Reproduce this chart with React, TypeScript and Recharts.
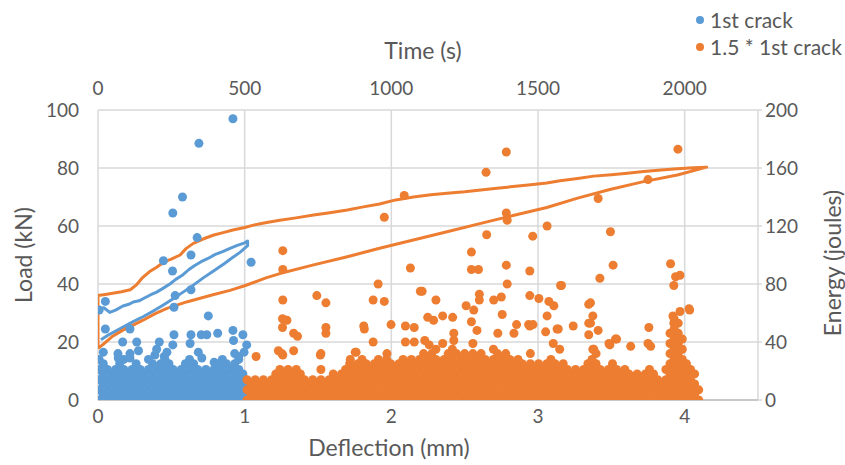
import React from "react";
import { ScatterChart, Scatter, XAxis, YAxis, CartesianGrid } from "recharts";

const BLUE = "#5B9BD5";
const ORANGE = "#ED7D31";
const INK = "#595959";
const GRID = "#d9d9d9";
const FONT = "Lato, 'Noto Sans', sans-serif";

const deflectionTicks = [0, 1, 2, 3, 4];
const timeTicks = [0, 500, 1000, 1500, 2000];
const loadTicks = [0, 20, 40, 60, 80, 100];
const energyTicks = [0, 40, 80, 120, 160, 200];

const seriesNames = ["1st crack", "1.5 * 1st crack"];

// AE hits in the dense band near zero: [time (s), energies (J)]
const crack1Band: [number, number[]][] = [
  [4, [0, 7, 14, 21, 28]], [18, [4, 11, 18, 25]], [32, [0, 7, 14, 21]], [46, [4, 11, 18]],
  [60, [0, 7, 14, 21]], [74, [4, 11, 18, 25]], [88, [0, 7, 14, 21, 28]], [102, [4, 11, 18]],
  [116, [0, 7, 14, 21]], [130, [4, 11, 18, 25]], [144, [0, 7, 14, 21]], [158, [4, 11, 18]],
  [172, [0, 7, 14, 21, 28]], [186, [4, 11, 18, 25]], [200, [0, 7, 14, 21]], [214, [4, 11, 18, 25]],
  [228, [0, 7, 14, 21, 28]], [242, [4, 11, 18, 25]], [256, [0, 7, 14, 21]], [270, [4, 11, 18]],
  [284, [0, 7, 14, 21]], [298, [4, 11, 18, 25]], [312, [0, 7, 14, 21, 28]], [326, [4, 11, 18, 25]],
  [340, [0, 7, 14, 21]], [354, [4, 11, 18]], [368, [0, 7, 14, 21]], [382, [4, 11, 18]],
  [396, [0, 7, 14, 21]], [410, [4, 11, 18, 25]], [424, [0, 7, 14, 21, 28]], [438, [4, 11, 18, 25]],
  [452, [0, 7, 14, 21]], [466, [4, 11, 18, 25, 32]], [480, [0, 7, 14, 21, 28]], [494, [4, 11, 18]],
];

// isolated higher-energy hits: [time (s), energy (J)]
const crack1Peaks: [number, number][] = [
  [460, 194], [344, 177], [288, 140], [255, 129], [338, 112], [223, 96], [317, 100],
  [254, 89], [522, 95], [263, 72], [317, 76], [259, 64], [376, 58], [25, 68], [4, 62],
  [25, 49], [109, 49], [84, 40], [132, 40], [209, 40], [259, 45], [317, 45], [352, 45],
  [408, 46], [460, 48], [494, 45], [507, 38], [68, 32], [109, 32], [194, 31], [138, 34],
  [200, 35], [255, 38], [314, 39], [371, 45], [462, 41], [18, 33], [69, 29], [109, 29],
  [226, 30], [235, 33], [342, 33], [354, 29], [396, 26], [479, 30], [498, 33],
];

const crack15Band: [number, number[]][] = [
  [508, [0, 7, 14]], [522, [4, 11]], [536, [0, 7, 14]], [550, [4, 11]], [564, [0, 7, 14]],
  [578, [4, 11]], [592, [0, 7, 14]], [606, [4, 11, 18]], [620, [0, 7, 14, 21]],
  [634, [4, 11, 18]], [648, [0, 7, 14, 21]], [662, [4, 11, 18]], [676, [0, 7, 14, 21]],
  [690, [4, 11, 18]], [704, [0, 7, 14]], [718, [4, 11]], [732, [0, 7, 14]], [746, [4, 11]],
  [760, [0, 7, 14, 21]], [774, [4, 11]], [788, [0, 7, 14]], [802, [4, 11, 18]],
  [816, [0, 7, 14]], [830, [4, 11, 18]], [844, [0, 7, 14, 21]], [858, [4, 11, 18, 25]],
  [872, [0, 7, 14, 21]], [886, [4, 11, 18, 25]], [900, [0, 7, 14, 21, 28]],
  [914, [4, 11, 18, 25]], [928, [0, 7, 14, 21]], [942, [4, 11, 18, 25]],
  [956, [0, 7, 14, 21, 28]], [970, [4, 11, 18, 25]], [984, [0, 7, 14, 21, 28]],
  [998, [4, 11, 18, 25]], [1012, [0, 7, 14, 21]], [1026, [4, 11, 18, 25]],
  [1040, [0, 7, 14, 21, 28]], [1054, [4, 11, 18, 25]], [1068, [0, 7, 14, 21, 28]],
  [1082, [4, 11, 18, 25]], [1096, [0, 7, 14, 21, 28]], [1110, [4, 11, 18, 25, 32]],
  [1124, [0, 7, 14, 21, 28]], [1138, [4, 11, 18, 25, 32]], [1152, [0, 7, 14, 21, 28, 35]],
  [1166, [4, 11, 18, 25]], [1180, [0, 7, 14, 21, 28]], [1194, [4, 11, 18, 25, 32]],
  [1208, [0, 7, 14, 21, 28, 35]], [1222, [4, 11, 18, 25, 32]], [1236, [0, 7, 14, 21, 28]],
  [1250, [4, 11, 18, 25, 32]], [1264, [0, 7, 14, 21, 28]], [1278, [4, 11, 18, 25, 32, 39]],
  [1292, [0, 7, 14, 21, 28]], [1306, [4, 11, 18, 25, 32]], [1320, [0, 7, 14, 21, 28]],
  [1334, [4, 11, 18, 25]], [1348, [0, 7, 14, 21, 28, 35]], [1362, [4, 11, 18, 25, 32]],
  [1376, [0, 7, 14, 21, 28]], [1390, [4, 11, 18, 25, 32]], [1404, [0, 7, 14, 21, 28]],
  [1418, [4, 11, 18, 25]], [1432, [0, 7, 14, 21, 28]], [1446, [4, 11, 18, 25]],
  [1460, [0, 7, 14, 21]], [1474, [4, 11, 18, 25, 32]], [1488, [0, 7, 14, 21]],
  [1502, [4, 11, 18, 25]], [1516, [0, 7, 14, 21]], [1530, [4, 11, 18, 25]],
  [1544, [0, 7, 14, 21, 28]], [1558, [4, 11, 18, 25]], [1572, [0, 7, 14, 21]],
  [1586, [4, 11, 18, 25]], [1600, [0, 7, 14, 21]], [1614, [4, 11, 18]],
  [1628, [0, 7, 14, 21]], [1642, [4, 11, 18]], [1656, [0, 7, 14, 21]],
  [1670, [4, 11, 18, 25]], [1684, [0, 7, 14, 21, 28]], [1698, [4, 11, 18, 25, 32]],
  [1712, [0, 7, 14, 21]], [1726, [4, 11, 18]], [1740, [0, 7, 14, 21]],
  [1754, [4, 11, 18, 25]], [1768, [0, 7, 14, 21]], [1782, [4, 11, 18]],
  [1796, [0, 7, 14, 21]], [1810, [4, 11, 18]], [1824, [0, 7, 14]], [1838, [4, 11, 18]],
  [1852, [0, 7, 14]], [1866, [4, 11, 18]], [1880, [0, 7, 14, 21]], [1894, [4, 11, 18]],
  [1908, [0, 7, 14]], [1922, [4, 11]], [1936, [0, 7, 14, 21]],
  [1950, [4, 11, 18, 25, 32, 39, 46]], [1964, [0, 7, 14, 21, 28, 35, 42, 49, 56]],
  [1978, [4, 11, 18, 25, 32, 39, 46, 53]], [1992, [0, 7, 14, 21, 28, 35, 42]],
  [2006, [4, 11, 18, 25]], [2020, [0, 7, 14, 21]], [2034, [4, 11, 18]], [2048, [0, 7]],
];

const crack15Peaks: [number, number][] = [
  [1392, 171], [1323, 157], [1044, 141], [976, 126], [1392, 129], [1395, 124], [1531, 120],
  [1325, 114], [1482, 113], [630, 103], [630, 90], [1273, 102], [1065, 91], [1273, 90],
  [1297, 90], [1392, 93], [1472, 89], [955, 80], [1395, 80], [1577, 79], [630, 69],
  [746, 72], [777, 67], [938, 69], [976, 68], [1105, 75], [1152, 69], [1255, 65],
  [1281, 62], [1300, 73], [1300, 69], [1349, 69], [1375, 71], [1472, 72], [1503, 70],
  [1537, 68], [1554, 65], [1378, 59], [1124, 57], [1144, 55], [1175, 58], [1209, 57],
  [999, 52], [1048, 51], [1078, 50], [1273, 54], [1472, 51], [1531, 58], [1620, 51],
  [1569, 49], [1526, 47], [908, 49], [777, 50], [777, 46], [629, 56], [644, 55], [629, 50],
  [667, 46], [680, 44], [630, 31], [667, 34], [758, 31], [880, 33], [1977, 173],
  [1875, 152], [1705, 139], [1747, 116], [1756, 93], [1711, 84], [1952, 94], [1969, 85],
  [1984, 86], [1963, 79], [1580, 79], [1679, 67], [1687, 58], [1679, 53], [1705, 48],
  [1878, 50], [2017, 62], [1984, 61], [1960, 58], [1963, 53], [1764, 42], [1745, 38],
  [1816, 37], [1875, 39], [1884, 37], [1687, 35], [539, 30], [906, 51], [1099, 75],
  [615, 34], [627, 32], [760, 32], [1078, 40], [1114, 41], [1129, 38], [1175, 39],
  [1213, 46], [1213, 41], [1363, 46], [1427, 52], [1418, 46], [1552, 39], [1574, 35],
  [1292, 48], [1468, 52], [1483, 52], [1565, 49], [1673, 66], [1673, 53], [1742, 39],
  [1768, 42], [1690, 35], [2015, 63], [1673, 45], [860, 28], [877, 33], [938, 40],
  [985, 32], [1048, 40],
];

// load-deflection loops: [deflection (mm), load (kN)]
const crack1Loop: [number, number][] = [
  [0.01, 31.5], [0.04, 31.8], [0.08, 30.2], [0.12, 31.0], [0.17, 32.4], [0.21, 33.0],
  [0.24, 33.8], [0.28, 34.2], [0.31, 35.0], [0.36, 36.3], [0.4, 37.2], [0.44, 38.4],
  [0.49, 40.0], [0.53, 41.6], [0.58, 43.2], [0.62, 45.0], [0.66, 46.4], [0.7, 47.6],
  [0.75, 48.8], [0.8, 50.2], [0.85, 51.2], [0.9, 52.3], [0.95, 53.3], [1.0, 54.2],
  [1.02, 54.8], [1.02, 53.2], [0.97, 51.0], [0.92, 49.2], [0.86, 47.0], [0.79, 44.6],
  [0.72, 42.2], [0.65, 39.6], [0.58, 37.2], [0.51, 34.8], [0.44, 32.6], [0.38, 30.8],
  [0.31, 28.8], [0.24, 27.0], [0.18, 25.4], [0.13, 24.0], [0.07, 22.4], [0.02, 20.8],
];

const crack15Loop: [number, number][] = [
  [0, 17.8], [0, 36], [0.05, 36.4], [0.1, 36.8], [0.16, 37.3], [0.22, 38.0], [0.26, 39.6],
  [0.3, 42.0], [0.35, 44.2], [0.4, 45.8], [0.45, 47.6], [0.5, 48.6], [0.56, 50.0],
  [0.6, 52.2], [0.65, 54.0], [0.72, 55.6], [0.79, 56.9], [0.86, 57.8], [0.92, 58.6],
  [1.0, 59.5], [1.06, 60.3], [1.15, 61.2], [1.24, 62.0], [1.35, 62.8], [1.47, 63.8],
  [1.58, 64.6], [1.7, 65.5], [1.8, 66.5], [1.92, 67.6], [2.03, 69.0], [2.15, 70.0],
  [2.27, 70.8], [2.38, 71.3], [2.5, 71.8], [2.61, 72.4], [2.72, 73.0], [2.83, 73.6],
  [2.95, 74.2], [3.06, 74.8], [3.15, 75.6], [3.27, 76.4], [3.38, 77.2], [3.5, 77.7],
  [3.61, 78.2], [3.72, 78.8], [3.84, 79.3], [3.95, 79.7], [4.06, 80.1], [4.15, 80.3],
  [4.1, 79.6], [3.95, 77.6], [3.72, 75.3], [3.49, 72.6], [3.27, 69.6], [3.06, 66.4],
  [2.83, 63.6], [2.61, 60.9], [2.38, 58.0], [2.15, 55.2], [1.92, 52.3], [1.7, 49.4],
  [1.47, 46.6], [1.24, 43.6], [1.15, 42.2], [1.0, 39.4], [0.9, 37.8], [0.79, 36.4],
  [0.61, 33.9], [0.47, 31.6], [0.39, 29.8], [0.31, 27.6], [0.24, 25.8], [0.17, 24.1],
  [0.1, 22.0], [0.04, 19.4], [0.0, 17.8],
];

const hits = (band: [number, number[]][], peaks: [number, number][]) => [
  ...band.flatMap(([t, es]) => es.map((E) => ({ t, E }))),
  ...peaks.map(([t, E]) => ({ t, E })),
];
const loop = (pts: [number, number][]) => pts.map(([d, L]) => ({ d, L }));

const tickStyle = { fill: INK, fontSize: 19, fontFamily: FONT };

const title = (text: string, x: number, y: number, rotate = false) => () => (
  <text
    x={x}
    y={y}
    textAnchor="middle"
    dominantBaseline="central"
    fill={INK}
    fontSize={23}
    fontFamily={FONT}
    transform={rotate ? `rotate(-90 ${x} ${y})` : undefined}
  >
    {text}
  </text>
);

const dot = (color: string) => (p: any) => <circle cx={p.cx} cy={p.cy} r={4.5} fill={color} />;
const noDot = () => <g />;

export default function App() {
  return (
    <div style={{ position: "absolute", left: 0, top: 0, width: 845, height: 465, background: "#fff" }}>
      <ScatterChart width={845} height={465} margin={{ top: 80, right: 27, bottom: 35, left: 38 }}>
        <CartesianGrid xAxisId="defl" yAxisId="load" stroke={GRID} strokeWidth={1.5} />
        <XAxis
          xAxisId="defl"
          dataKey="d"
          type="number"
          orientation="bottom"
          domain={[0, 4.5]}
          ticks={deflectionTicks}
          interval={0}
          allowDataOverflow
          height={30}
          tickSize={0}
          tickMargin={10}
          tickLine={false}
          axisLine={{ stroke: "#bfbfbf", strokeWidth: 1.5 }}
          tick={tickStyle}
          label={title("Deflection (mm)", 389, 447)}
        />
        <XAxis
          xAxisId="time"
          dataKey="t"
          type="number"
          orientation="top"
          domain={[0, 2250]}
          ticks={timeTicks}
          interval={0}
          allowDataOverflow
          height={30}
          tickSize={0}
          tickMargin={15}
          tickLine={false}
          axisLine={false}
          tick={tickStyle}
          label={title("Time (s)", 423, 50)}
        />
        <YAxis
          yAxisId="load"
          dataKey="L"
          type="number"
          domain={[0, 100]}
          ticks={loadTicks}
          interval={0}
          allowDataOverflow
          width={60}
          tickSize={0}
          tickMargin={19}
          tickLine={false}
          axisLine={false}
          tick={tickStyle}
          label={title("Load (kN)", 23, 255, true)}
        />
        <YAxis
          yAxisId="energy"
          dataKey="E"
          type="number"
          orientation="right"
          domain={[0, 200]}
          ticks={energyTicks}
          interval={0}
          allowDataOverflow
          width={60}
          tickSize={4}
          tickMargin={3}
          tickLine={{ stroke: GRID, strokeWidth: 1.5 }}
          axisLine={false}
          tick={tickStyle}
          label={title("Energy (joules)", 832, 263, true)}
        />
        <Scatter
          data={loop(crack1Loop)}
          xAxisId="defl"
          yAxisId="load"
          fill={BLUE}
          line={{ stroke: BLUE, strokeWidth: 3, strokeLinejoin: "round" }}
          shape={noDot}
          isAnimationActive={false}
        />
        <Scatter
          data={loop(crack15Loop)}
          xAxisId="defl"
          yAxisId="load"
          fill={ORANGE}
          line={{ stroke: ORANGE, strokeWidth: 3, strokeLinejoin: "round" }}
          shape={noDot}
          isAnimationActive={false}
        />
        <Scatter
          name={seriesNames[0]}
          data={hits(crack1Band, crack1Peaks)}
          xAxisId="time"
          yAxisId="energy"
          fill={BLUE}
          shape={dot(BLUE)}
          isAnimationActive={false}
        />
        <Scatter
          name={seriesNames[1]}
          data={hits(crack15Band, crack15Peaks)}
          xAxisId="time"
          yAxisId="energy"
          fill={ORANGE}
          shape={dot(ORANGE)}
          isAnimationActive={false}
        />
      </ScatterChart>
      <div style={{ position: "absolute", left: 696, top: 6, fontFamily: FONT, fontSize: 21, color: INK }}>
        {seriesNames.map((name, i) => (
          <div key={name} style={{ display: "flex", alignItems: "center", height: 27, whiteSpace: "nowrap" }}>
            <span
              style={{
                width: 8,
                height: 8,
                borderRadius: 4,
                background: i === 0 ? BLUE : ORANGE,
                marginRight: 6,
                flex: "none",
              }}
            />
            {name}
          </div>
        ))}
      </div>
    </div>
  );
}
